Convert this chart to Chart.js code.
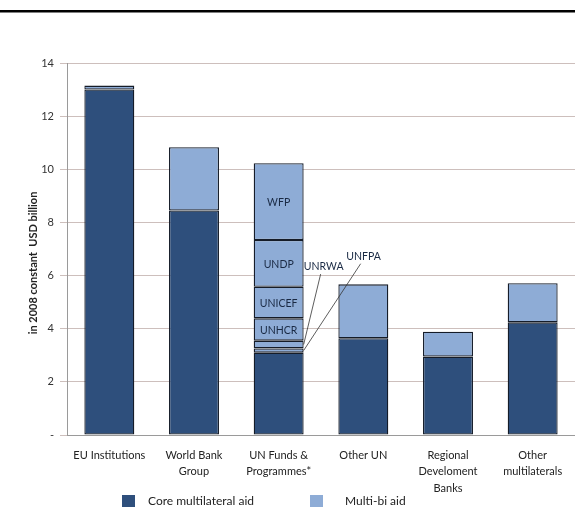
<!DOCTYPE html>
<html>
<head>
<meta charset="utf-8">
<script src="https://cdn.jsdelivr.net/npm/chart.js@4/dist/chart.umd.min.js"></script>
<style>
  html, body { margin: 0; padding: 0; background: #fff; }
  #wrap { position: relative; width: 575px; height: 507px; overflow: hidden; }
  canvas { position: absolute; left: 0; top: 0; }
  .leg { position: absolute; font: 12px Lato, "Liberation Sans", sans-serif; color: #222; white-space: nowrap; }
  .sw { position: absolute; width: 13px; height: 12px; }
</style>
</head>
<body>
<div id="wrap">
  <canvas id="c" width="575" height="507"></canvas>
  <div class="sw" style="left:122px; top:495px; background:#2e4f7c;"></div>
  <div class="leg" style="left:148px; top:493px;">Core multilateral aid</div>
  <div class="sw" style="left:310px; top:495px; background:#8eacd6;"></div>
  <div class="leg" style="left:345px; top:493px;">Multi-bi aid</div>
</div>
<script>
const categories = [
  "EU Institutions",
  ["World Bank", "Group"],
  ["UN Funds &", "Programmes*"],
  "Other UN",
  ["Regional", "Develoment", "Banks"],
  ["Other", "multilaterals"]
];
const coreAid = [13.0, 8.45, 3.10, 3.64, 2.95, 4.24];
const multiBiAid = [0.15, 2.38, null, 2.03, 0.94, 1.47];
const unAgencies = ["UNFPA", "UNRWA", "UNHCR", "UNICEF", "UNDP", "WFP"];
const unAgencyValues = [0.16, 0.29, 0.84, 1.19, 1.76, 2.89];
const unIndex = 2;
const yTickLabels = ["-", "2", "4", "6", "8", "10", "12", "14"];
const insideLabels = ["UNHCR", "UNICEF", "UNDP", "WFP"];
const calloutLabels = [
  { name: "UNRWA", value: 6.32, dx: 20 },
  { name: "UNFPA", value: 6.71, dx: 60 }
];

const CORE = "#2e4f7c";
const LIGHT = "#8eacd6";
const FONT = "Lato, 'Liberation Sans', sans-serif";

const datasets = [
  { label: "Core multilateral aid", data: coreAid, backgroundColor: CORE }
];
unAgencies.forEach((name, i) => {
  const d = categories.map((_, k) => (k === unIndex ? unAgencyValues[i] : null));
  datasets.push({ label: name, data: d, backgroundColor: LIGHT });
});
datasets.push({ label: "Multi-bi aid", data: multiBiAid, backgroundColor: LIGHT });
datasets.forEach(ds => {
  ds.borderColor = "#151c28";
  ds.borderWidth = 1.3;
  ds.borderSkipped = false;
  ds.barPercentage = 0.59;
  ds.categoryPercentage = 1.0;
  ds.stack = "s";
});

const decor = {
  id: "decor",
  afterDraw(chart) {
    const ctx = chart.ctx;
    const y = chart.scales.y;
    ctx.save();
    // top rule
    ctx.fillStyle = "#000";
    ctx.fillRect(0, 10, 575, 2.5);
    // y axis title
    ctx.translate(33, 263);
    ctx.rotate(-Math.PI / 2);
    ctx.font = "bold 11px " + FONT;
    ctx.fillStyle = "#222";
    ctx.textAlign = "center";
    ctx.textBaseline = "middle";
    ctx.fillText("in 2008 constant  USD billion", 0, 0);
    ctx.restore();

    // labels on UN segments
    ctx.save();
    ctx.font = "10.5px " + FONT;
    ctx.fillStyle = "#1a2a44";
    ctx.textAlign = "center";
    ctx.textBaseline = "middle";
    unAgencies.forEach((name, i) => {
      const el = chart.getDatasetMeta(i + 1).data[unIndex];
      if (!el) return;
      if (insideLabels.includes(name)) {
        ctx.fillText(name, el.x, (el.y + el.base) / 2 + 1);
      }
    });
    // callouts
    ctx.strokeStyle = "#333";
    ctx.lineWidth = 0.8;
    calloutLabels.forEach(c => {
      const i = unAgencies.indexOf(c.name);
      const el = chart.getDatasetMeta(i + 1).data[unIndex];
      const right = el.x + el.width / 2;
      const ty = y.getPixelForValue(c.value);
      const tx = right + c.dx;
      ctx.fillText(c.name, tx, ty);
      ctx.beginPath();
      ctx.moveTo(tx - 3, ty + 7);
      ctx.lineTo(right, (el.y + el.base) / 2);
      ctx.stroke();
    });
    ctx.restore();
  }
};

new Chart(document.getElementById("c"), {
  type: "bar",
  data: { labels: categories, datasets },
  options: {
    responsive: false,
    animation: false,
    devicePixelRatio: 1,
    layout: { padding: { top: 63, left: 0, right: 0, bottom: 0 } },
    plugins: { legend: { display: false }, tooltip: { enabled: false } },
    scales: {
      x: {
        stacked: true,
        grid: { display: false, drawTicks: false },
        border: { display: true, color: "#9a9a9a", width: 1 },
        ticks: { font: { family: FONT, size: 11, lineHeight: 1.5 }, color: "#222", padding: 12, maxRotation: 0, autoSkip: false },
        afterFit(s) { s.height = 72; }
      },
      y: {
        stacked: true,
        min: 0, max: 14,
        grid: { color: "#cdbfbc", lineWidth: 1, tickLength: 7 },
        border: { display: true, color: "#9a9a9a", width: 1 },
        ticks: {
          stepSize: 2,
          font: { family: FONT, size: 11 },
          color: "#333",
          padding: 6,
          callback: (v, i) => yTickLabels[i]
        },
        afterFit(s) { s.width = 67; }
      }
    }
  },
  plugins: [decor]
});
</script>
</body>
</html>
